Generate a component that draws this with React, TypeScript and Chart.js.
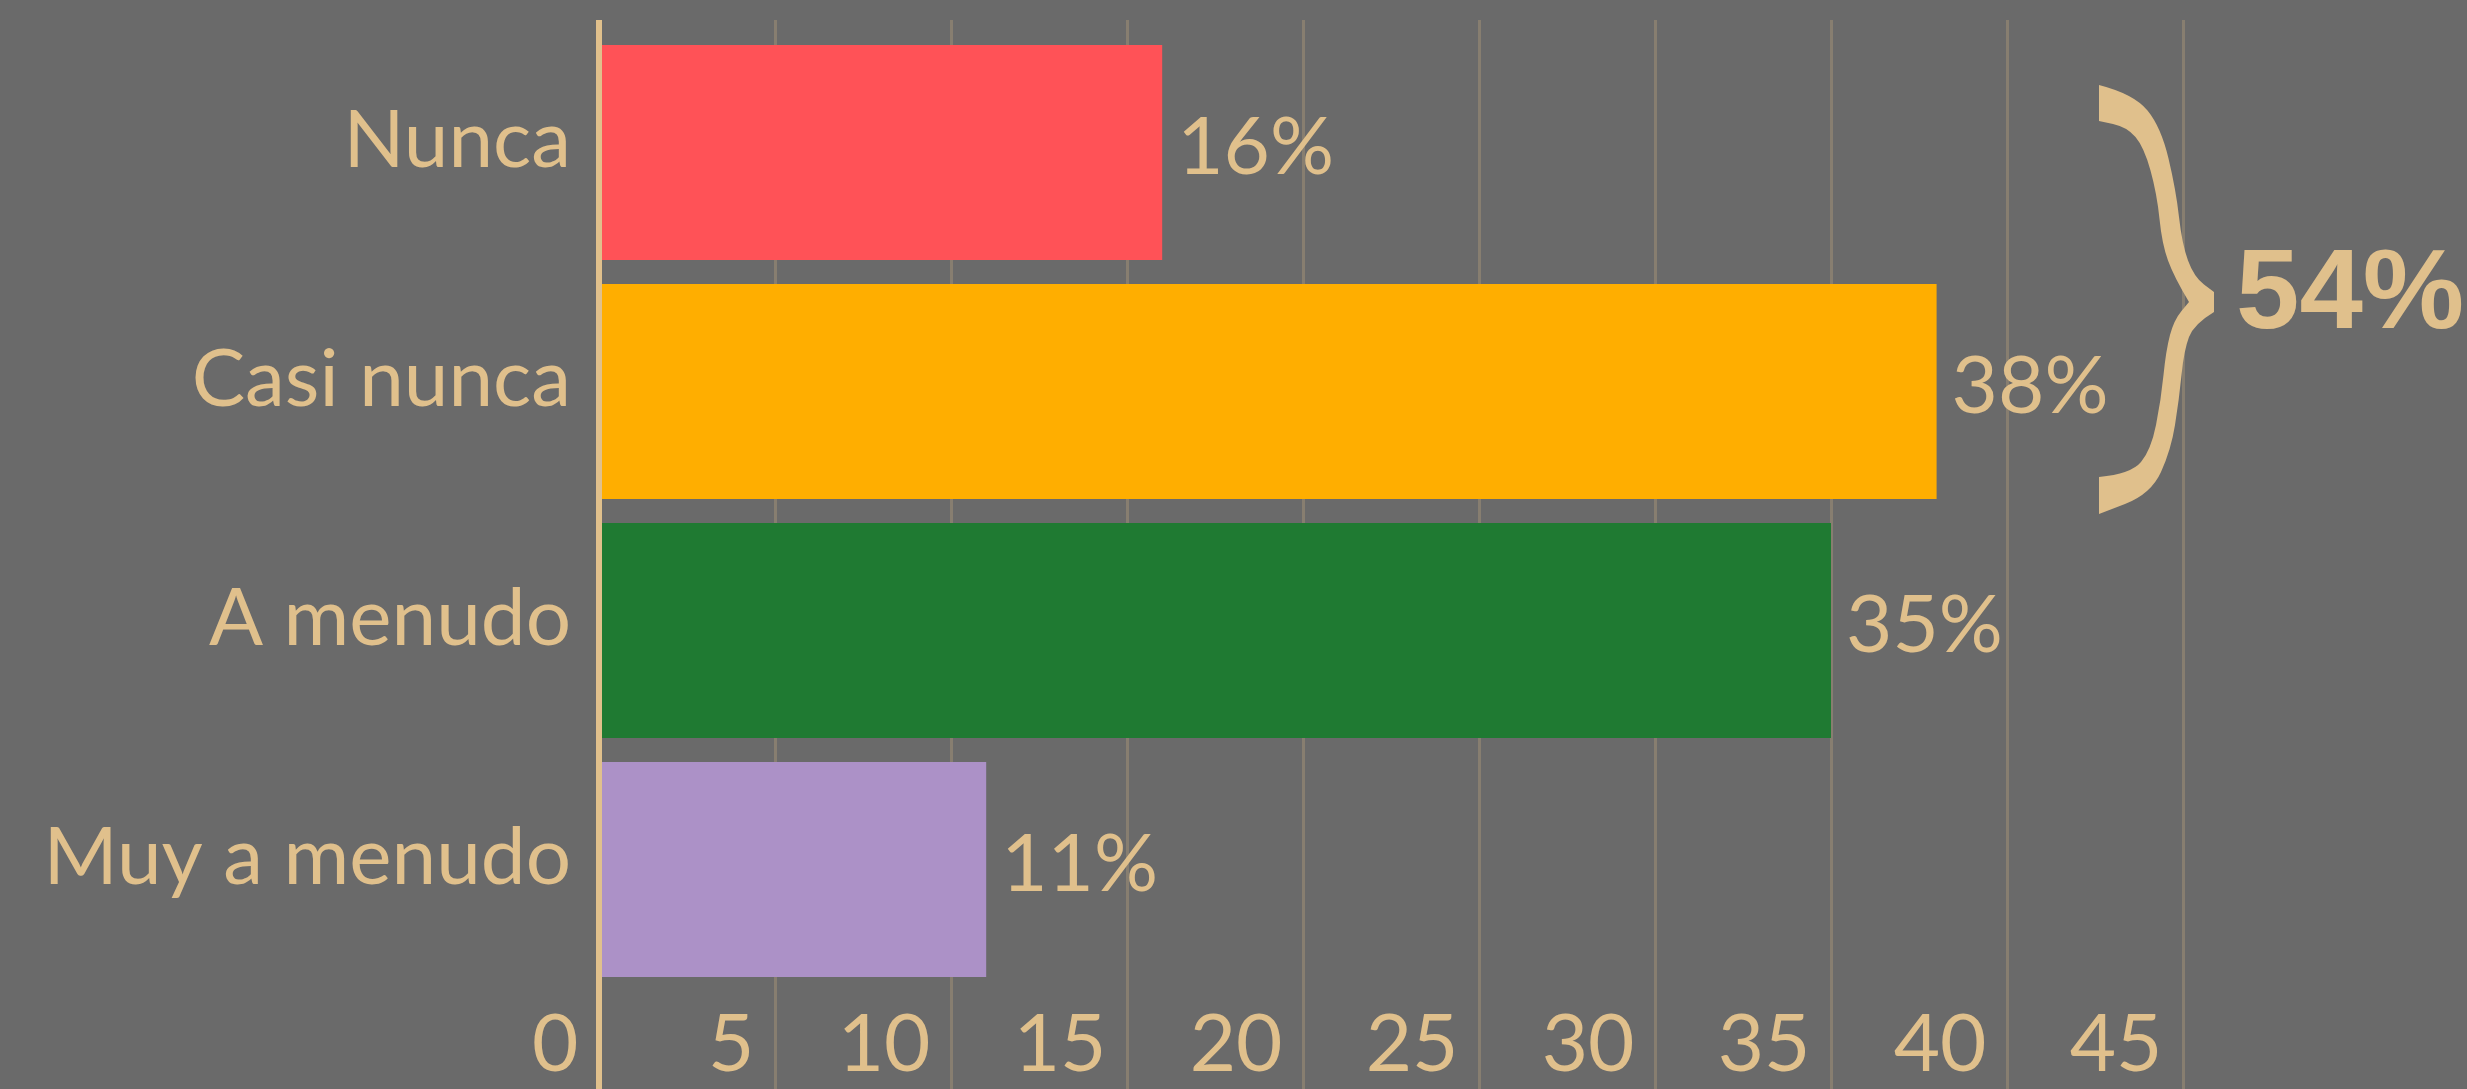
import React, { useEffect, useRef } from 'react';
import { Chart, registerables } from 'chart.js';

Chart.register(...registerables);

const categories = ['Nunca', 'Casi nunca', 'A menudo', 'Muy a menudo'];
const values = [16, 38, 35, 11];
const barColors = ['#FF5257', '#FFAE00', '#1F7A32', '#AC91C7'];
const xTickValues = [0, 5, 10, 15, 20, 25, 30, 35, 40, 45];
const bracketText = '54%';
const bracketFromIndex = 0;
const bracketToIndex = 1;

const BG = '#6a6a6a';
const TAN = '#e0c08c';
const GRID = '#877e70';
const FONT = 'Lato, "Open Sans", sans-serif';

function smoothTo(ctx: CanvasRenderingContext2D, pts: number[][], ox: number, oy: number) {
  for (let i = 1; i < pts.length - 1; i++) {
    const mx = (pts[i][0] + pts[i + 1][0]) / 2;
    const my = (pts[i][1] + pts[i + 1][1]) / 2;
    ctx.quadraticCurveTo(ox + pts[i][0], oy + pts[i][1], ox + mx, oy + my);
  }
  const last = pts[pts.length - 1];
  ctx.lineTo(ox + last[0], oy + last[1]);
}

function drawBrace(ctx: CanvasRenderingContext2D, tx: number, ty: number) {
  const outerUpper = [[-115, -217], [-80, -208], [-53, -175], [-38, -112], [-32, -58], [-20, -25], [0, -10]];
  const outerLower = [[0, 10], [-20, 22], [-30, 48], [-35, 98], [-43, 148], [-63, 192], [-115, 212]];
  const innerLower = [[-115, 175], [-83, 172], [-63, 148], [-53, 98], [-48, 48], [-40, 18], [-25, 0]];
  const innerUpper = [[-25, 0], [-40, -25], [-52, -58], [-57, -108], [-70, -155], [-87, -175], [-115, -181]];
  ctx.beginPath();
  ctx.moveTo(tx + outerUpper[0][0], ty + outerUpper[0][1]);
  smoothTo(ctx, outerUpper, tx, ty);
  ctx.lineTo(tx + outerLower[0][0], ty + outerLower[0][1]);
  smoothTo(ctx, outerLower, tx, ty);
  ctx.lineTo(tx + innerLower[0][0], ty + innerLower[0][1]);
  smoothTo(ctx, innerLower, tx, ty);
  smoothTo(ctx, innerUpper, tx, ty);
  ctx.closePath();
  ctx.fill();
}

const decorPlugin = {
  id: 'decor',
  beforeDraw(chart: any) {
    const ctx = chart.ctx;
    ctx.save();
    ctx.fillStyle = BG;
    ctx.fillRect(0, 0, chart.width, chart.height);
    ctx.restore();
  },
  beforeDatasetsDraw(chart: any) {
    const ctx = chart.ctx;
    const xs = chart.scales.x;
    const top = chart.chartArea.top - 13;
    ctx.save();
    ctx.strokeStyle = GRID;
    ctx.lineWidth = 3;
    xs.ticks.forEach((t: any) => {
      if (t.value === 0) return;
      const px = Math.round(xs.getPixelForValue(t.value)) + 0.5;
      ctx.beginPath();
      ctx.moveTo(px, top);
      ctx.lineTo(px, chart.height);
      ctx.stroke();
    });
    ctx.restore();
  },
  afterDatasetsDraw(chart: any) {
    const ctx = chart.ctx;
    const xs = chart.scales.x;
    const ys = chart.scales.y;
    const top = chart.chartArea.top - 13;
    ctx.save();
    const x0 = xs.getPixelForValue(0);
    ctx.fillStyle = TAN;
    ctx.fillRect(x0 - 3, top, 6, chart.height - top);
    ctx.font = `80px ${FONT}`;
    ctx.textAlign = 'left';
    ctx.textBaseline = 'alphabetic';
    values.forEach((v, i) => {
      const px = xs.getPixelForValue(v);
      const py = ys.getPixelForValue(i);
      ctx.fillText(`${v}%`, px + 15, py + 21);
    });
    const y0 = ys.getPixelForValue(bracketFromIndex);
    const y1 = ys.getPixelForValue(bracketToIndex);
    const tipY = y0 + (y1 - y0) * 0.625;
    const tipX = xs.getPixelForValue(45) + 31;
    drawBrace(ctx, tipX, tipY);
    ctx.font = `bold 114px "Liberation Sans", Arial, sans-serif`;
    ctx.fillText(bracketText, tipX + 22, tipY + 26);
    ctx.restore();
  },
};

export default function App() {
  const ref = useRef<HTMLCanvasElement | null>(null);
  useEffect(() => {
    document.body.style.margin = '0';
    document.body.style.background = BG;
    if (!ref.current) return;
    const chart = new Chart(ref.current, {
      type: 'bar',
      data: {
        labels: categories,
        datasets: [
          {
            data: values,
            backgroundColor: barColors,
            borderWidth: 0,
            barPercentage: 0.9,
            categoryPercentage: 1.0,
          },
        ],
      },
      options: {
        indexAxis: 'y',
        responsive: false,
        animation: false,
        devicePixelRatio: 1,
        layout: { padding: { top: 33, right: 108, left: 0, bottom: 0 } },
        plugins: { legend: { display: false }, tooltip: { enabled: false } },
        scales: {
          x: {
            type: 'linear',
            min: 0,
            max: 50,
            afterBuildTicks: (scale: any) => {
              scale.ticks = xTickValues.map((v) => ({ value: v }));
            },
            afterFit: (scale: any) => {
              scale.height = 100;
              scale.paddingLeft = 0;
              scale.paddingRight = 0;
            },
            grid: { display: false, drawTicks: false },
            border: { display: false },
            ticks: {
              align: 'end',
              color: TAN,
              font: { family: FONT, size: 80 },
              padding: 8,
              maxRotation: 0,
              autoSkip: false,
              callback: (v: any) => `${v} `,
            },
          },
          y: {
            afterFit: (scale: any) => {
              scale.width = 599;
              scale.paddingTop = 0;
              scale.paddingBottom = 0;
            },
            grid: { display: false, drawTicks: false },
            border: { display: false },
            ticks: {
              color: TAN,
              font: { family: FONT, size: 80 },
              padding: 28,
              labelOffset: -11,
            },
          },
        },
      },
      plugins: [decorPlugin],
    } as any);
    return () => chart.destroy();
  }, []);
  return (
    <div style={{ position: 'absolute', left: 0, top: 0, width: 2467, height: 1089, background: BG }}>
      <canvas ref={ref} width={2467} height={1089} style={{ display: 'block', width: 2467, height: 1089 }} />
    </div>
  );
}
